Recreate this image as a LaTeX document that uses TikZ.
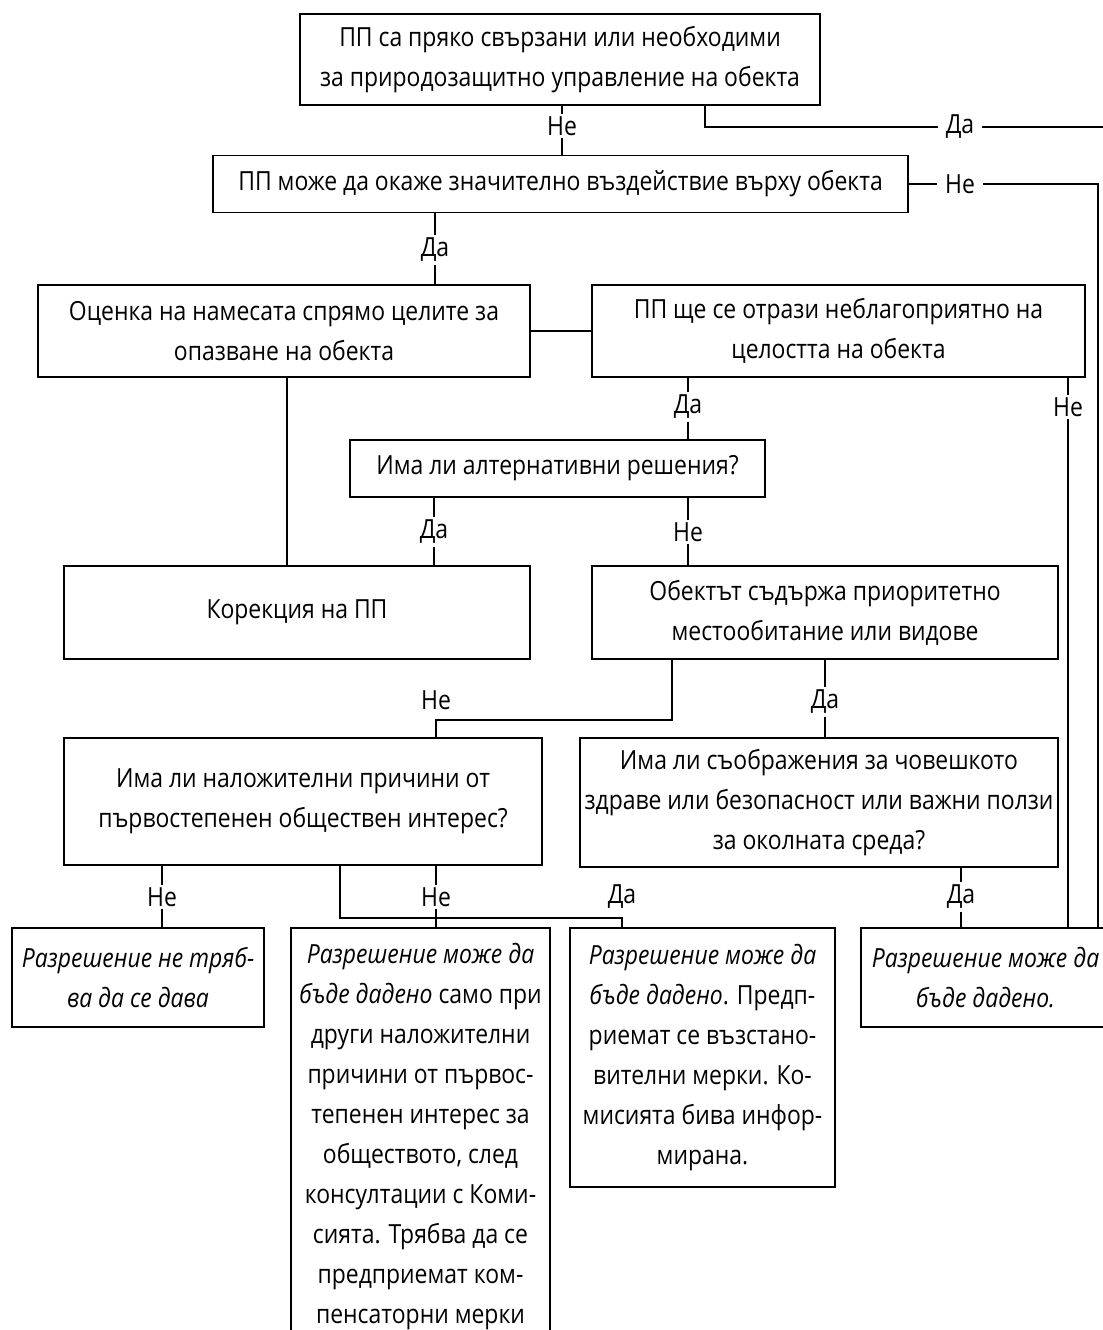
\documentclass[tikz,border=0pt]{standalone}
\usepackage{fontspec}
\setmainfont[FakeStretch=0.87]{Open Sans}

\begin{document}
\begin{tikzpicture}[x=0.02cm,y=-0.02cm,line width=1.1pt,
  font=\fontsize{15}{22.8}\selectfont,
  box/.style={draw,align=center,inner sep=0pt},
  ans/.style={inner xsep=4pt,inner ysep=1pt}]
\clip (0,0) rectangle (1103,1330);
\node[box,minimum width=10.4cm,minimum height=1.82cm] (b1) at (560,59.5) {ПП са пряко свързани или необходими\\за природозащитно управление на обекта};
\node[box,minimum width=13.9cm,minimum height=1.14cm] (b2) at (560.5,184) {ПП може да окаже значително въздействие върху обекта};
\node[box,minimum width=9.84cm,minimum height=1.84cm] (b3) at (284,331) {Оценка на намесата  спрямо целите за\\опазване на обекта};
\node[box,minimum width=9.86cm,minimum height=1.84cm] (b4) at (838.5,331) {ПП ще се отрази неблагоприятно на\\целостта на обекта};
\node[box,minimum width=8.3cm,minimum height=1.14cm] (b5) at (557.5,468.5) {Има ли алтернативни решения?};
\node[box,minimum width=9.32cm,minimum height=1.86cm] (b6) at (297,612.5) {Корекция на ПП};
\node[box,minimum width=9.32cm,minimum height=1.86cm] (b7) at (825,612.5) {Обектът съдържа приоритетно\\местообитание или видове};
\node[box,minimum width=9.56cm,minimum height=2.54cm] (b8) at (303,801.5) {Има ли наложителни причини от\\първостепенен обществен интерес?};
\node[box,minimum width=9.56cm,minimum height=2.58cm] (b9) at (819,802.5) {Има ли съображения за човешкото\\здраве или безопасност или важни ползи\\за околната среда?};
\node[box,minimum width=5.04cm,minimum height=1.98cm] (b10) at (138,977.5) {\textit{Разрешение не тряб-}\\\textit{ва да се дава}};
\node[box,minimum width=5.18cm,minimum height=8.34cm] (b11) at (420.5,1136.5) {\textit{Разрешение може да}\\\textit{бъде дадено} само при\\други наложителни\\причини от първос-\\тепенен интерес за\\обществото, след\\консултации с Коми-\\сията. Трябва да се\\предприемат ком-\\пенсаторни мерки};
\node[box,minimum width=5.3cm,minimum height=5.18cm] (b12) at (702.5,1057.5) {\textit{Разрешение може да}\\\textit{бъде дадено}. Предп-\\риемат се възстано-\\вителни мерки. Ко-\\мисията бива инфор-\\мирана.};
\node[box,minimum width=4.98cm,minimum height=1.98cm] (b13) at (985.5,977.5) {\textit{Разрешение може да}\\\textit{бъде дадено.}};

\node[ans] (n1) at (562,126) {Не};
\node[ans] (d1) at (960,127) {Да};
\node[ans] (n2) at (960,184) {Не};
\node[ans] (d2) at (435,250) {Да};
\node[ans] (d3) at (688,407) {Да};
\node[ans] (n3) at (1068,407) {Не};
\node[ans] (d4) at (434,532) {Да};
\node[ans] (n4) at (688,532) {Не};
\node[ans] (n5) at (436,700) {Не};
\node[ans] (d5) at (825,702) {Да};
\node[ans] (n6) at (162,897) {Не};
\node[ans] (n7) at (436,897) {Не};
\node[ans] (d6) at (622,897) {Да};
\node[ans] (d7) at (961,897) {Да};

\coordinate (k1) at (705,127);
\coordinate (e1) at (1120,127);
\coordinate (k2) at (1098,184);
\coordinate (k3) at (287,0);
\coordinate (k4) at (672,720);
\coordinate (k5) at (340,918);

\draw (b1.south -| n1) -- (n1) -- (b2.north -| n1);
\draw (b1.south -| k1) -- (k1) -- (d1) -- (e1);
\draw (b2.east) -- (n2) -- (k2) -- (b13.north -| k2);
\draw (b2.south -| d2) -- (d2) -- (b3.north -| d2);
\draw (b3) -- (b4);
\draw (b4.south -| d3) -- (d3) -- (b5.north -| d3);
\draw (b4.south -| n3) -- (n3) -- (b13.north -| n3);
\draw (b5.south -| d4) -- (d4) -- (b6.north -| d4);
\draw (b5.south -| n4) -- (n4) -- (b7.north -| n4);
\draw (b3.south -| k3) -- (b6.north -| k3);
\draw (b7.south -| k4) -- (k4) -| (b8.north -| n5);
\draw (b7.south -| d5) -- (d5) -- (b9.north -| d5);
\draw (b8.south -| n6) -- (n6) -- (b10.north -| n6);
\draw (b8.south -| n7) -- (n7) -- (b11.north -| n7);
\draw (b8.south -| k5) -- (k5) -| (b12.north -| d6);
\draw (b9.south -| d7) -- (d7) -- (b13.north -| d7);
\end{tikzpicture}
\end{document}
